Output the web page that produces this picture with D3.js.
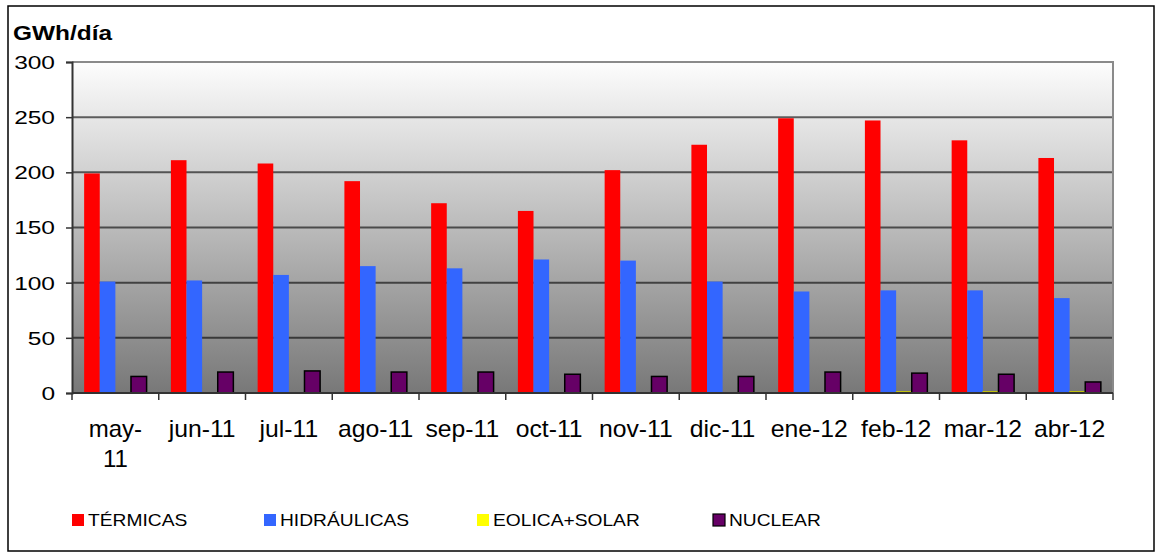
<!DOCTYPE html>
<html>
<head>
<meta charset="utf-8">
<script src="https://cdn.jsdelivr.net/npm/d3@7"></script>
<style>
    body { margin: 0; background: #fff; }
    svg { display: block; font-family: "Liberation Sans", Arial, sans-serif; }
</style>
</head>
<body>
<div id="chart-area"></div>
<script>
// Datos (GWh/día)
var meses = ["may-11", "jun-11", "jul-11", "ago-11", "sep-11", "oct-11", "nov-11", "dic-11", "ene-12", "feb-12", "mar-12", "abr-12"];
var termicas = [199, 211, 208, 192, 172, 165, 202, 225, 249, 247, 229, 213];
var hidraulicas = [101, 102, 107, 115, 113, 121, 120, 101, 92, 93, 93, 86];
var eolicaSolar = [0, 0, 0, 0, 0, 0, 0, 0, 0, 1.5, 1.5, 1.5];
var nuclear = [15, 19, 20, 19, 19, 17, 15, 15, 19, 18, 17, 10];

var series = ["TÉRMICAS", "HIDRÁULICAS", "EOLICA+SOLAR", "NUCLEAR"];
var colores = ["#ff0000", "#3366ff", "#ffff00", "#660066"];
var yTicks = [0, 50, 100, 150, 200, 250, 300];

var margin = { top: 62, right: 43, bottom: 160, left: 72 },
    width = 1156 - margin.left - margin.right,
    height = 553 - margin.top - margin.bottom;

var svg = d3.select("#chart-area")
    .append("svg")
    .attr("width", 1156)
    .attr("height", 553);

// marco exterior
svg.append("rect")
    .attr("x", 8).attr("y", 6)
    .attr("width", 1146).attr("height", 545)
    .attr("fill", "#fff")
    .attr("stroke", "#000")
    .attr("stroke-width", 1.5);

var grad = svg.append("defs").append("linearGradient")
    .attr("id", "fondo")
    .attr("x1", 0).attr("y1", 0).attr("x2", 0).attr("y2", 1);
grad.append("stop").attr("offset", "0%").attr("stop-color", "#fdfdfd");
grad.append("stop").attr("offset", "100%").attr("stop-color", "#787878");

var g = svg.append("g")
    .attr("transform", "translate(" + margin.left + "," + margin.top + ")");

var rows = meses.map(function(m, i) {
    return { mes: m, values: [termicas[i], hidraulicas[i], eolicaSolar[i], nuclear[i]] };
});

var x0 = d3.scaleBand()
    .domain(meses)
    .range([0, width])
    .padding(0);

var x1 = d3.scaleBand()
    .domain(series)
    .range([x0.bandwidth() * 0.14, x0.bandwidth() * 0.86]);

var y = d3.scaleLinear()
    .domain([0, 300])
    .range([height, 0]);

// fondo del area de trazado
g.append("rect")
    .attr("width", width)
    .attr("height", height)
    .attr("fill", "url(#fondo)");

// lineas de division
g.selectAll(".grid")
    .data(yTicks.filter(function(d) { return d > 0 && d < 300; }))
    .enter().append("line")
    .attr("class", "grid")
    .attr("x1", 0).attr("x2", width)
    .attr("y1", function(d) { return y(d); })
    .attr("y2", function(d) { return y(d); })
    .attr("stroke", "#000")
    .attr("stroke-opacity", 0.6)
    .attr("stroke-width", 2);

// borde superior y derecho
g.append("path")
    .attr("d", "M0," + y(300) + "H" + width + "V" + height)
    .attr("fill", "none")
    .attr("stroke", "#8a8a8a")
    .attr("stroke-width", 2);

// barras
var grupos = g.selectAll(".mes")
    .data(rows)
    .enter().append("g")
    .attr("class", "mes")
    .attr("transform", function(d) { return "translate(" + x0(d.mes) + ",0)"; });

grupos.selectAll("rect")
    .data(function(d) {
        return d.values.map(function(v, i) { return { serie: series[i], value: v, i: i }; })
            .filter(function(e) { return e.value > 0; });
    })
    .enter().append("rect")
    .attr("x", function(d) { return x1(d.serie); })
    .attr("y", function(d) { return y(d.value); })
    .attr("width", x1.bandwidth())
    .attr("height", function(d) { return height - y(d.value); })
    .attr("fill", function(d) { return colores[d.i]; })
    .attr("stroke", function(d) { return d.i === 3 ? "#000" : (d.i === 2 ? "#b5b500" : "none"); })
    .attr("stroke-width", function(d) { return d.i === 3 ? 1.5 : 0.6; });

// eje Y
var yAxis = g.append("g")
    .attr("class", "y axis")
    .call(d3.axisLeft(y).tickValues(yTicks).tickSize(6).tickPadding(11));
yAxis.select(".domain").attr("stroke", "#333").attr("stroke-width", 2);
yAxis.selectAll(".tick line").attr("stroke", "#333").attr("stroke-width", 1.5);
yAxis.selectAll("text")
    .attr("fill", "#000")
    .style("font-size", "18px")
    .attr("dy", "0.36em")
    .each(function() {
        var len = this.getComputedTextLength();
        d3.select(this).attr("textLength", len * 1.36).attr("lengthAdjust", "spacingAndGlyphs");
    });

// eje X
var xAxis = g.append("g")
    .attr("class", "x axis")
    .attr("transform", "translate(0," + height + ")");
xAxis.append("line")
    .attr("x1", 0).attr("x2", width)
    .attr("stroke", "#333").attr("stroke-width", 2);
xAxis.selectAll(".xtick")
    .data(meses.map(function(m) { return x0(m); }).concat([width]))
    .enter().append("line")
    .attr("class", "xtick")
    .attr("x1", function(d) { return d; }).attr("x2", function(d) { return d; })
    .attr("y1", 0).attr("y2", 7)
    .attr("stroke", "#333").attr("stroke-width", 1.5);

var xLabels = xAxis.selectAll(".xlabel")
    .data(meses)
    .enter().append("text")
    .attr("class", "xlabel")
    .attr("x", function(d) { return x0(d) + x0.bandwidth() / 2; })
    .attr("y", 44)
    .attr("text-anchor", "middle")
    .style("font-size", "24px")
    .text(function(d) { return d; });

// partir etiquetas largas como "may-11"
xLabels.each(function(d) {
    var len = this.getComputedTextLength();
    if (len > x0.bandwidth() * 0.9) {
        var t = d3.select(this).text(null);
        var partes = d.split("-");
        t.append("tspan").attr("x", t.attr("x")).text(partes[0] + "-");
        t.append("tspan").attr("x", t.attr("x")).attr("dy", 30).text(partes[1]);
    } else {
        d3.select(this).attr("textLength", len * 1.03).attr("lengthAdjust", "spacingAndGlyphs");
    }
});

// titulo del eje
svg.append("text")
    .attr("x", 13)
    .attr("y", 40)
    .style("font-size", "20px")
    .style("font-weight", "bold")
    .attr("textLength", 99)
    .attr("lengthAdjust", "spacingAndGlyphs")
    .text("GWh/día");

// leyenda
var legendX = [72, 264, 477, 713];
var legend = svg.selectAll(".legend")
    .data(series)
    .enter().append("g")
    .attr("class", "legend")
    .attr("transform", function(d, i) { return "translate(" + legendX[i] + ",514)"; });

legend.append("rect")
    .attr("width", 12)
    .attr("height", 12)
    .attr("fill", function(d, i) { return colores[i]; })
    .attr("stroke", function(d, i) { return i === 3 ? "#000" : "none"; })
    .attr("stroke-width", 1.2);

legend.append("text")
    .attr("x", 16)
    .attr("y", 12)
    .style("font-size", "17px")
    .text(function(d) { return d; })
    .each(function() {
        var len = this.getComputedTextLength();
        d3.select(this).attr("textLength", len * 1.13).attr("lengthAdjust", "spacingAndGlyphs");
    });
</script>
</body>
</html>
